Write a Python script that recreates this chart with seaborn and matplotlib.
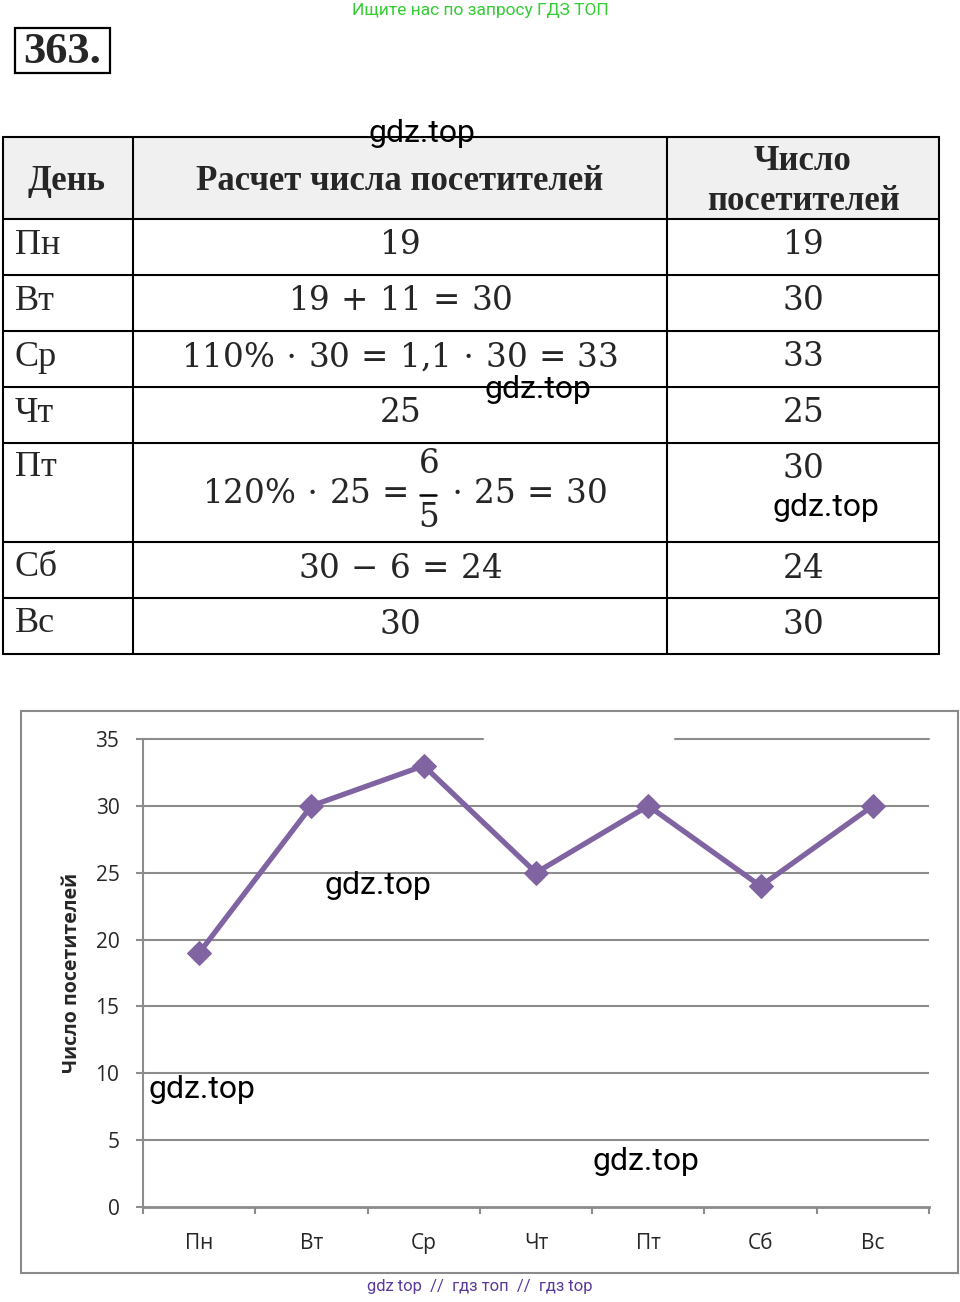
import re
import matplotlib
matplotlib.use("Agg")
import matplotlib.pyplot as plt
import seaborn as sns
from matplotlib.patches import Rectangle
from matplotlib.ticker import FixedLocator

# data
days = ["Пн", "Вт", "Ср", "Чт", "Пт", "Сб", "Вс"]
calc = [
    r"19",
    r"19 + 11 = 30",
    r"110\% \cdot 30 = 1{,}1 \cdot 30 = 33",
    r"25",
    r"120\% \cdot 25 = \dfrac{6}{5} \cdot 25 = 30",
    r"30 - 6 = 24",
    r"30",
]
visitors = [19, 30, 33, 25, 30, 24, 30]
y_ticks = [0, 5, 10, 15, 20, 25, 30, 35]

header = ["День", "Расчет числа посетителей", "Число", "посетителей"]

purple = "#8064a2"
grid_grey = "#8c8c8c"

sns.set_style("white")
plt.rcParams["mathtext.fontset"] = "dejavuserif"

fig = plt.figure(figsize=(9.6, 13.02), dpi=100)


def px(x, y):
    return x / 960, 1 - y / 1302


def spaced(expr):
    # a bit more air around the operators, like the original
    expr = re.sub(r"\s*(=|\+|-|\\cdot)\s*",
                  lambda m: r"\," + m.group(1) + r"\,", expr.strip())
    return f"${expr}$"


# background layer in pixel coordinates (table, captions, frame)
bg = fig.add_axes([0, 0, 1, 1])
bg.set_xlim(0, 960)
bg.set_ylim(1302, 0)
bg.axis("off")

bg.text(480, 11, "Ищите нас по запросу ГДЗ ТОП", ha="center", va="center",
        fontsize=12.5, color="#33cc33", family="Roboto")

bg.add_patch(Rectangle((15, 28), 95, 45, fill=False, ec="black", lw=1.6))
bg.text(62, 52, "363.", ha="center", va="center", fontsize=32,
        fontweight="bold", family="Liberation Serif")

# table
row_edges = [137, 219, 275, 331, 387, 443, 542, 598, 654]
col_edges = [3, 133, 667, 939]

bg.add_patch(Rectangle((col_edges[0], row_edges[0]),
                       col_edges[-1] - col_edges[0], row_edges[1] - row_edges[0],
                       fc="#f0f0f0", ec="none"))
for y in row_edges:
    bg.plot([col_edges[0], col_edges[-1]], [y, y], color="black", lw=1.5)
for x in col_edges:
    bg.plot([x, x], [row_edges[0], row_edges[-1]], color="black", lw=1.5)

hkw = dict(ha="center", va="center", fontsize=25, fontweight="bold",
           family="Liberation Serif")
bg.text(67, 181, header[0], **hkw)
bg.text(400, 181, header[1], **hkw)
bg.text(803, 161, header[2], **hkw)
bg.text(803, 201, header[3], **hkw)

for i, (d, c, v) in enumerate(zip(days, calc, visitors)):
    top, bot = row_edges[i + 1], row_edges[i + 2]
    tall = bot - top > 70
    mid = (top + bot) / 2
    side = top + 25 if tall else mid - 2
    bg.text(15, side, d, ha="left", va="center", fontsize=26,
            family="Liberation Serif")
    bg.text(803, side, f"${v}$", ha="center", va="center", fontsize=23.5)
    m = re.match(r"(.*)\\dfrac\{(\d+)\}\{(\d+)\}(.*)", c)
    if m:
        left, num, den, right = m.groups()
        fx = 428
        bg.text(fx - 20, mid + 1, spaced(left), ha="right", va="center",
                fontsize=23.5)
        bg.text(fx, mid - 29, f"${num}$", ha="center", va="center", fontsize=23.5)
        bg.text(fx, mid + 25, f"${den}$", ha="center", va="center", fontsize=23.5)
        bg.plot([fx - 8, fx + 8], [mid + 2, mid + 2], color="black", lw=1.8)
        bg.text(fx + 12, mid + 1, spaced(right), ha="left", va="center",
                fontsize=23.5)
    else:
        bg.text(400, side, spaced(c), ha="center", va="center", fontsize=23.5)

# chart frame
bg.add_patch(Rectangle((21, 711), 937, 562, fill=False, ec="#8a8a8a", lw=1.5))

fig.text(*px(480, 1287), "gdz top  //  гдз топ  //  гдз top", ha="center",
         va="center", fontsize=12, color="#5b3a99", family="Roboto")

# line chart
ax = fig.add_axes([143 / 960, 95 / 1302, 786 / 960, 468 / 1302])
sns.lineplot(x=days, y=visitors, ax=ax, sort=False, errorbar=None,
             color=purple, lw=3.8, marker="D", markersize=12,
             markeredgecolor=purple, zorder=5)
ax.set_xlim(-0.5, 6.5)
ax.set_ylim(0, 35)
ax.set_yticks(y_ticks)

for t in y_ticks[1:-1]:
    ax.axhline(t, 0, 1, color=grid_grey, lw=1.5, zorder=1)
ax.axhline(35, 0, 0.4326, color=grid_grey, lw=1.5, zorder=1, clip_on=False)
ax.axhline(35, 0.677, 1, color=grid_grey, lw=1.5, zorder=1, clip_on=False)

for s in ["top", "right"]:
    ax.spines[s].set_visible(False)
ax.spines["left"].set_color(grid_grey)
ax.spines["left"].set_linewidth(1.5)
ax.spines["bottom"].set_color(grid_grey)
ax.spines["bottom"].set_linewidth(2)

ax.xaxis.set_minor_locator(FixedLocator([k - 0.5 for k in range(len(days) + 1)]))
ax.tick_params(axis="x", which="major", length=0, pad=19, labelsize=15)
ax.tick_params(axis="x", which="minor", length=5, width=1.5, color=grid_grey,
               direction="out", bottom=True)
ax.tick_params(axis="y", length=5, width=1.5, color=grid_grey, pad=12,
               labelsize=15, left=True)
for lab in ax.get_xticklabels() + ax.get_yticklabels():
    lab.set_family("Open Sans")

ax.set_xlabel("")
ax.set_ylabel("Число посетителей", fontsize=14, fontweight="bold",
              family="Open Sans")
ax.yaxis.set_label_coords(-0.077, 0.5)

# watermarks on top of everything
for wx, wy in [(422, 134), (538, 390), (826, 507), (378, 886), (202, 1090), (646, 1162)]:
    fig.text(*px(wx, wy), "gdz.top", ha="center", va="center", fontsize=23,
             family="Roboto", color="black", zorder=10)

plt.savefig("out.png", dpi=100)
plt.close()
